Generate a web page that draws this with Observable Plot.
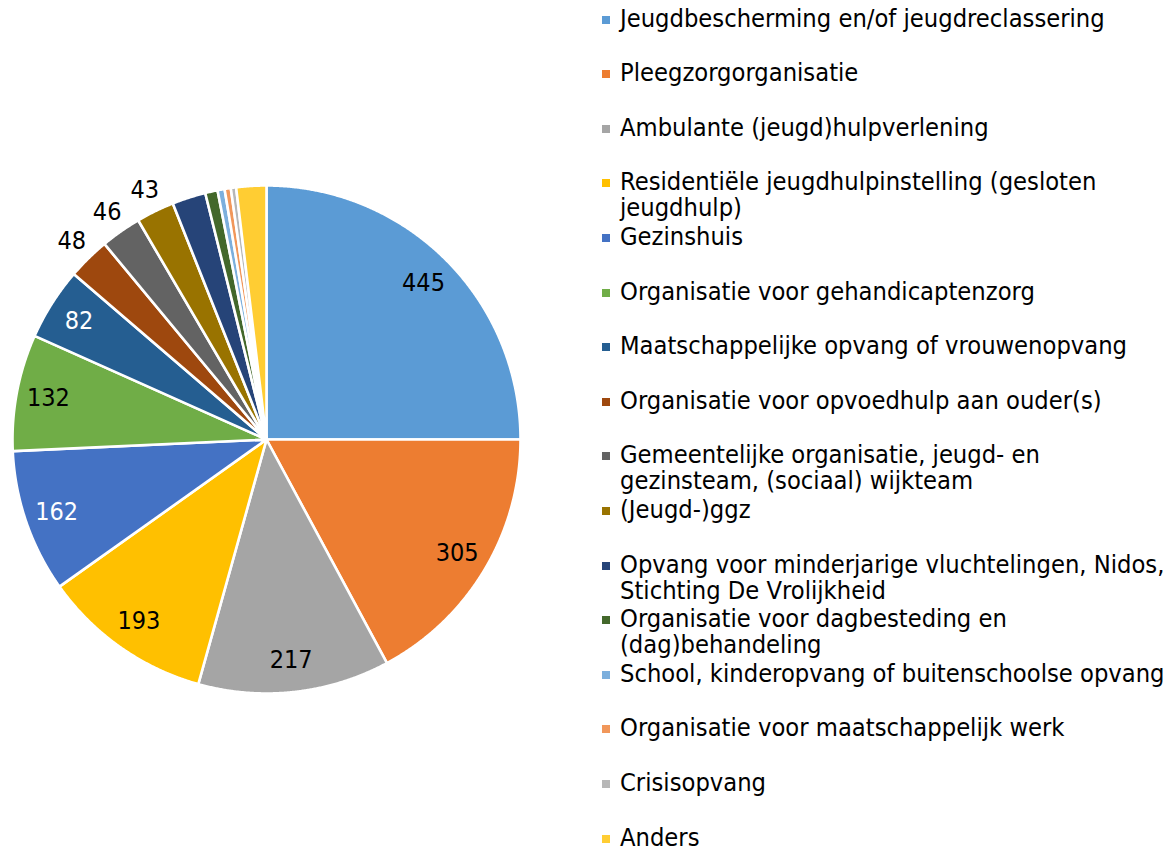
<!DOCTYPE html>
<html>
<head>
<meta charset="utf-8">
<script src="https://cdn.jsdelivr.net/npm/d3@7"></script>
<script src="https://cdn.jsdelivr.net/npm/@observablehq/plot@0.6"></script>
<style>
  html, body { margin: 0; padding: 0; background: #ffffff; }
  #wrap { position: relative; width: 1166px; height: 851px; overflow: hidden; }
  #chart { position: absolute; left: 0; top: 0; }
  #legend { position: absolute; left: 602px; top: 0; width: 564px; height: 851px; }
  .item { position: absolute; left: 0; display: flex; align-items: flex-start; }
  .sw { flex: none; width: 8px; height: 8px; margin-right: 10px; }
  .lbl { color: #000; white-space: pre; }
</style>
</head>
<body>
<div id="wrap">
  <div id="chart"></div>
  <div id="legend"></div>
</div>
<script>
// ---- data ----
const categories = [
  "Jeugdbescherming en/of jeugdreclassering",
  "Pleegzorgorganisatie",
  "Ambulante (jeugd)hulpverlening",
  "Residentiële jeugdhulpinstelling (gesloten jeugdhulp)",
  "Gezinshuis",
  "Organisatie voor gehandicaptenzorg",
  "Maatschappelijke opvang of vrouwenopvang",
  "Organisatie voor opvoedhulp aan ouder(s)",
  "Gemeentelijke organisatie, jeugd- en gezinsteam, (sociaal) wijkteam",
  "(Jeugd-)ggz",
  "Opvang voor minderjarige vluchtelingen, Nidos, Stichting De Vrolijkheid",
  "Organisatie voor dagbesteding en (dag)behandeling",
  "School, kinderopvang of buitenschoolse opvang",
  "Organisatie voor maatschappelijk werk",
  "Crisisopvang",
  "Anders"
];
const values = [445, 305, 217, 193, 162, 132, 82, 48, 46, 43, 38, 14, 8, 7, 6, 34];
const colors = [
  "#5B9BD5", "#ED7D31", "#A5A5A5", "#FFC000", "#4472C4", "#70AD47",
  "#255E91", "#9E480E", "#636363", "#997300", "#264478", "#43682B",
  "#7CAFDD", "#F1975A", "#B7B7B7", "#FFCD33"
];
const labelMin = 40;   // slices below this value carry no data label
const outsideMax = 50; // slices below this value have their label outside

// ---- fonts ----
const FONT = '"DejaVu Sans Condensed", "DejaVu Sans", sans-serif';
const canvas = document.createElement("canvas");
const ctx = canvas.getContext("2d");
function textWidth(s, size) { ctx.font = `${size}px ${FONT}`; return ctx.measureText(s).width; }
const legendSize = 100 * 485 / textWidth(categories[0], 100);
const pieLabelSize = 25;

// ---- pie geometry via d3.pie ----
const arcs = d3.pie().sort(null).value(d => d)(values);
const slicePts = [];
arcs.forEach((a, i) => {
  const cat = categories[i];
  const n = Math.max(2, Math.ceil((a.endAngle - a.startAngle) / 0.004));
  slicePts.push({cat, x: 0, y: 0});
  for (let k = 0; k <= n; k++) {
    const t = a.startAngle + (a.endAngle - a.startAngle) * k / n;
    slicePts.push({cat, x: Math.sin(t), y: Math.cos(t)});
  }
  slicePts.push({cat, x: 0, y: 0});
});

const colorOf = new Map(categories.map((c, i) => [c, colors[i]]));
const labels = arcs.map((a, i) => ({
  cat: categories[i],
  value: values[i],
  mid: (a.startAngle + a.endAngle) / 2,
  r: values[i] < outsideMax ? 1.094 : 0.874
})).filter(d => d.value >= labelMin);
const dark = d => d.r < 1 && d3.lab(colorOf.get(d.cat)).l < 55;

const plot = Plot.plot({
  width: 580,
  height: 851,
  margin: 0,
  x: {domain: [-1, 1], range: [12, 520], axis: null},
  y: {domain: [-1, 1], range: [693, 185], axis: null},
  color: {domain: categories, range: colors},
  style: {background: "transparent", fontFamily: FONT},
  marks: [
    Plot.line(slicePts, {
      x: "x", y: "y", z: "cat", fill: "cat",
      stroke: "white", strokeWidth: 2.6, strokeLinejoin: "round", curve: "linear"
    }),
    Plot.text(labels.filter(d => !dark(d)), {
      x: d => d.r * Math.sin(d.mid), y: d => d.r * Math.cos(d.mid),
      text: d => String(d.value), fill: "black", fontSize: pieLabelSize, fontFamily: FONT
    }),
    Plot.text(labels.filter(d => dark(d)), {
      x: d => d.r * Math.sin(d.mid), y: d => d.r * Math.cos(d.mid),
      text: d => String(d.value), fill: "white", fontSize: pieLabelSize, fontFamily: FONT
    })
  ]
});
document.getElementById("chart").appendChild(plot);

// ---- legend (HTML, right side) ----
const maxW = 546;
function wrap(s) {
  const words = s.split(" ");
  const lines = [];
  let cur = "";
  for (const w of words) {
    const t = cur ? cur + " " + w : w;
    if (cur && textWidth(t, legendSize) > maxW) { lines.push(cur); cur = w; }
    else cur = t;
  }
  if (cur) lines.push(cur);
  return lines.join("\n");
}
const legend = document.getElementById("legend");
const step = 54.6, lineH = 26;
categories.forEach((c, i) => {
  const item = document.createElement("div");
  item.className = "item";
  item.style.top = (5.5 + i * step) + "px";
  const sw = document.createElement("div");
  sw.className = "sw";
  sw.style.background = colors[i];
  sw.style.marginTop = (lineH / 2 - 3) + "px";
  const lb = document.createElement("div");
  lb.className = "lbl";
  lb.style.fontFamily = FONT;
  lb.style.fontSize = legendSize + "px";
  lb.style.lineHeight = lineH + "px";
  lb.textContent = wrap(c);
  item.appendChild(sw);
  item.appendChild(lb);
  legend.appendChild(item);
});
</script>
</body>
</html>
